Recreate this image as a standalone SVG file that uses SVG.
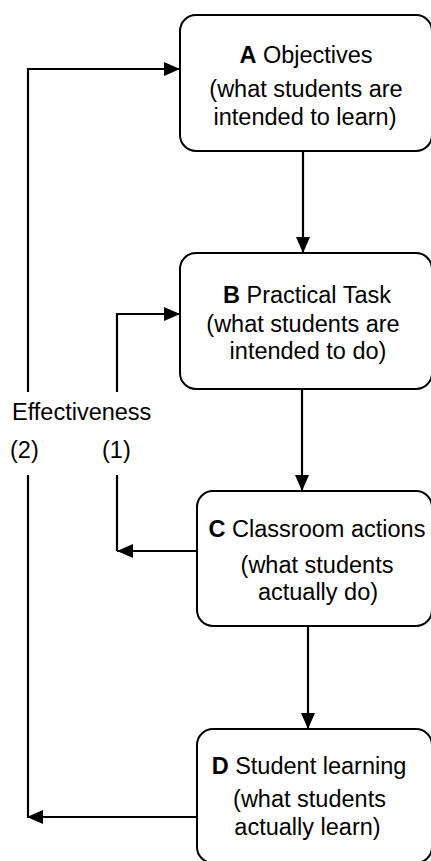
<svg xmlns="http://www.w3.org/2000/svg" width="431" height="861" viewBox="0 0 431 861">
<defs>
<style>
.box{fill:#fff;stroke:#000;stroke-width:2}
.ln{fill:none;stroke:#000;stroke-width:2.2}
.t{font-family:"Liberation Sans",Arial,sans-serif;font-size:23.5px;fill:#000}
.m{text-anchor:middle}
.b{font-weight:bold}
</style>
<marker id="ah" markerUnits="userSpaceOnUse" markerWidth="16" markerHeight="14" refX="16" refY="7" orient="auto">
<path d="M0,0 L16,7 L0,14 Z" fill="#000"/>
</marker>
</defs>
<rect width="431" height="861" fill="#fff"/>
<g id="connectors">
<path class="ln" d="M303,151 V253" marker-end="url(#ah)"/>
<path class="ln" d="M302,389 V491" marker-end="url(#ah)"/>
<path class="ln" d="M308,626 V729" marker-end="url(#ah)"/>
<path class="ln" d="M197,551 H117" marker-end="url(#ah)"/>
<path class="ln" d="M117,551 V475"/>
<path class="ln" d="M117,392 V314 H180" marker-end="url(#ah)"/>
<path class="ln" d="M197,817 H27" marker-end="url(#ah)"/>
<path class="ln" d="M28,818 V475"/>
<path class="ln" d="M28,392 V69 H180" marker-end="url(#ah)"/>
</g>
<g id="nodeA">
<rect class="box" x="180" y="15" width="252" height="136" rx="16"/>
<text class="t m" x="306" y="63"><tspan class="b">A</tspan> Objectives</text>
<text class="t m" x="306" y="97">(what students are</text>
<text class="t m" x="305" y="125">intended to learn)</text>
</g>
<g id="nodeB">
<rect class="box" x="180" y="253" width="252" height="136" rx="16"/>
<text class="t m" x="307" y="303"><tspan class="b">B</tspan> Practical Task</text>
<text class="t m" x="303" y="332">(what students are</text>
<text class="t m" x="308" y="359">intended to do)</text>
</g>
<g id="nodeC">
<rect class="box" x="197" y="491" width="235" height="135" rx="16"/>
<text class="t m" x="317" y="537"><tspan class="b">C</tspan> Classroom actions</text>
<text class="t m" x="317" y="573">(what students</text>
<text class="t m" x="318" y="600">actually do)</text>
</g>
<g id="nodeD">
<rect class="box" x="197" y="729" width="235" height="134" rx="16"/>
<text class="t m" x="309" y="774"><tspan class="b">D</tspan> Student learning</text>
<text class="t m" x="309.5" y="807">(what students</text>
<text class="t m" x="307.5" y="835">actually learn)</text>
</g>
<g id="labels">
<text class="t" x="12" y="420">Effectiveness</text>
<text class="t" x="10" y="458">(2)</text>
<text class="t" x="102" y="458">(1)</text>
</g>
</svg>
